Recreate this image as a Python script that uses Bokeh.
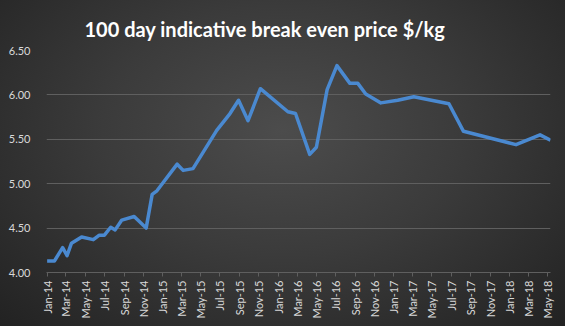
import pandas as pd
from bokeh.plotting import figure
from bokeh.models import FixedTicker, DatetimeTickFormatter, NumeralTickFormatter, Range1d
from bokeh.embed import file_html
from bokeh.resources import INLINE

title_text = "100 day indicative break even price $/kg"

dates = [
    "2014-01-01", "2014-01-24", "2014-02-19", "2014-03-05", "2014-03-19", "2014-04-20",
    "2014-05-27", "2014-06-15", "2014-07-01", "2014-07-21", "2014-08-04", "2014-08-25",
    "2014-10-03", "2014-11-10", "2014-11-29", "2014-12-14", "2015-02-16", "2015-03-07",
    "2015-04-07", "2015-06-21", "2015-08-02", "2015-08-29", "2015-09-28", "2015-11-06",
    "2016-02-01", "2016-02-25", "2016-04-10", "2016-05-01", "2016-06-04", "2016-07-05",
    "2016-08-15", "2016-09-09", "2016-10-04", "2016-11-21", "2017-01-13", "2017-03-05",
    "2017-06-24", "2017-08-09", "2018-01-22", "2018-04-08", "2018-05-11",
]
prices = [
    4.13, 4.13, 4.28, 4.19, 4.33, 4.40,
    4.37, 4.42, 4.42, 4.51, 4.48, 4.59,
    4.63, 4.50, 4.88, 4.92, 5.22, 5.15,
    5.17, 5.60, 5.79, 5.94, 5.71, 6.07,
    5.81, 5.79, 5.33, 5.41, 6.06, 6.33,
    6.13, 6.13, 6.01, 5.91, 5.94, 5.98,
    5.90, 5.59, 5.44, 5.55, 5.49,
]
x_ticks = pd.date_range("2014-01-01", "2018-05-01", freq="2MS")
y_ticks = [4.0, 4.5, 5.0, 5.5, 6.0, 6.5]

x = pd.to_datetime(dates)

p = figure(
    width=565, height=326, output_backend="svg", toolbar_location=None,
    x_axis_type="datetime",
    x_range=Range1d(pd.Timestamp("2013-12-30"), pd.Timestamp("2018-05-11")),
    y_range=Range1d(4.0, 6.5),
    min_border_left=46, min_border_right=15, min_border_top=50, min_border_bottom=54,
)
p.styles = {"background-image": "radial-gradient(ellipse at 50% 40%, #4c4c4c 0%, #3b3b3b 45%, #222222 100%)"}
p.border_fill_color = None
p.background_fill_color = None
p.outline_line_color = None

p.title.text = title_text
p.title.text_color = "white"
p.title.text_font = "Lato"
p.title.text_font_style = "bold"
p.title.text_font_size = "20px"
p.title.align = "left"
p.title.offset = 38
p.title.standoff = 20

p.line(x, prices, line_color="#4a89d0", line_width=3.5, line_join="round")

p.xaxis.ticker = FixedTicker(ticks=[t.value / 1e6 for t in x_ticks])
p.xaxis.formatter = DatetimeTickFormatter(days="%b-%y", months="%b-%y", years="%b-%y")
p.xaxis.major_label_orientation = 1.5708
p.xaxis.major_label_text_color = "#d9d9d9"
p.xaxis.major_label_text_font = "Lato"
p.xaxis.major_label_text_font_size = "11px"
p.xaxis.axis_line_color = "#5f5f5f"
p.xaxis.major_tick_line_color = "#5f5f5f"
p.xaxis.major_tick_out = 4
p.xaxis.major_tick_in = 0
p.xaxis.minor_tick_line_color = None
p.xaxis.major_label_standoff = 4

p.yaxis.ticker = FixedTicker(ticks=y_ticks)
p.yaxis.formatter = NumeralTickFormatter(format="0.00")
p.yaxis.major_label_text_color = "#d9d9d9"
p.yaxis.major_label_text_font = "Lato"
p.yaxis.major_label_text_font_size = "11px"
p.yaxis.axis_line_color = None
p.yaxis.major_tick_line_color = None
p.yaxis.minor_tick_line_color = None
p.yaxis.major_label_standoff = 10

p.xgrid.grid_line_color = None
p.ygrid.grid_line_color = "#5f5f5f"
p.ygrid.grid_line_width = 1

open("out.html", "w").write(file_html(p, INLINE))
